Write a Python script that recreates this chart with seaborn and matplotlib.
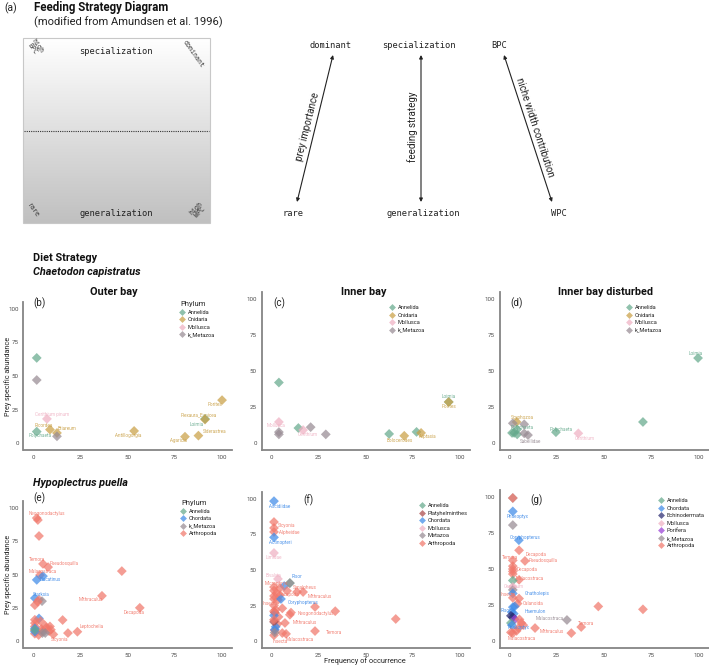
import numpy as np
import pandas as pd
import seaborn as sns
import matplotlib.pyplot as plt
from matplotlib.lines import Line2D
from matplotlib.patches import Rectangle
from matplotlib.colors import LinearSegmentedColormap

sns.set_style("white")
plt.rcParams['font.family'] = ['Roboto', 'DejaVu Sans']

# ---------------- data ----------------
# (b) Chaetodon capistratus, outer bay
b_x = [2, 2, 2, 9, 7.4, 12.7, 12.7, 53.5, 80.4, 87.5, 91, 91, 100]
b_y = [63.5, 47, 8.5, 10, 18, 7.5, 5, 9, 4.7, 5.5, 18, 17.5, 32]
b_phylum = ["Annelida", "k_Metazoa", "Annelida", "Cnidaria", "Mollusca", "Cnidaria", "k_Metazoa",
            "Cnidaria", "Cnidaria", "Cnidaria", "Annelida", "Cnidaria", "Cnidaria"]
b_label = ["", "", "Polychaeta", "Ricordea", "Cerithium pinum", "Briareum", "", "Antillogorgia",
           "Agaricia", "Siderastrea", "Loimia", "Plexaura_Eunicea", "Porites"]

# (c) inner bay
c_x = [4.2, 4.2, 4.2, 4.2, 14.5, 17, 21, 29, 62.5, 70.5, 77, 79.4, 94, 94]
c_y = [42, 14.6, 7.6, 6, 10.4, 9, 11, 6, 6.3, 5, 7.7, 7, 28.5, 28.5]
c_phylum = ["Annelida", "Mollusca", "k_Metazoa", "k_Metazoa", "Annelida", "Mollusca", "k_Metazoa",
            "k_Metazoa", "Annelida", "Cnidaria", "Annelida", "Cnidaria", "Annelida", "Cnidaria"]
c_label = ["", "Mollusca", "", "", "", "Cerithium", "", "", "", "Bolocerodes", "", "Aiptasia",
           "Loimia", "Porites"]

# (d) inner bay disturbed
d_x = [99.5, 70.5, 4, 2, 2.7, 1.6, 4.3, 4.3, 8, 8, 10, 24.7, 36.5]
d_y = [59, 14.6, 14.6, 13.7, 7, 7, 6, 9.5, 13, 6.7, 5.5, 7.5, 6.7]
d_phylum = ["Annelida", "Annelida", "Cnidaria", "k_Metazoa", "Annelida", "Annelida", "Annelida",
            "Annelida", "k_Metazoa", "k_Metazoa", "k_Metazoa", "Annelida", "Mollusca"]
d_label = ["Loimia", "", "Scyphozoa", "", "", "", "", "Polychaeta", "", "", "Sabellidae",
           "Polychaeta", "Cerithium"]

# (e) Hypoplectrus puella, outer bay
e_x = [2, 2.6, 3.2, 5.3, 8, 47, 3.7, 5.3, 2, 1, 36.5, 3.2, 4.8, 1, 2.5, 56.5, 15.7, 3.2, 1, 1,
       1, 1, 1, 4, 4.5, 5, 6.5, 7, 8.5, 9, 9.5, 3, 1, 1, 1, 5, 6.5, 23.5, 18.5, 10.8]
e_y = [92.5, 91, 79, 58, 55.6, 52.6, 49.6, 48.8, 46, 32.3, 34, 31, 30, 27, 29.5, 25, 15.8, 17, 16, 13.5,
       11, 8, 5.5, 15, 9, 7.5, 11.5, 10, 7.5, 11, 8.5, 4.5, 9.5, 7, 8.5, 6, 6, 7, 6, 5]
e_phylum = ["Arthropoda"] * 7 + ["Chordata"] * 3 + ["Arthropoda", "Arthropoda", "k_Metazoa"] + \
           ["Arthropoda"] * 4 + ["Chordata"] + ["Arthropoda"] * 14 + \
           ["Chordata", "Chordata", "Annelida", "k_Metazoa", "k_Metazoa"] + ["Arthropoda"] * 3
e_label = ["Neogonodactylus", "", "", "Temora", "Pseudosquilla", "", "Malacostraca", "", "Elacatinus",
           "Starksia", "Mithraculus", "", "", "", "", "Decapoda"] + [""] * 21 + ["Leptochelia", "", "Sicyonia"]

# (f) inner bay
f_x = [1.6, 1.6, 1.6, 1.6, 1.6, 1.6, 3.7, 7, 10, 10, 1.6, 4.7, 1.6, 3, 8.5, 13.8, 17, 4.8, 1.6, 1.6,
       3.7, 5.3, 23.3, 1.6, 34, 7.4, 23.3, 6, 8, 1.6, 66, 10.6, 2, 2.5, 4, 3.5, 2, 6, 10, 1.6,
       2.5, 1.6, 2, 1.6, 1.6, 2]
f_y = [98.5, 83.8, 79.6, 76.8, 73, 62, 43.7, 38.7, 40.8, 40.8, 38, 37.3, 35.5, 33.5, 35.3, 34.5, 34.5,
       32.4, 31.7, 29.6, 29, 29.6, 24, 25, 21, 12.7, 7, 5.6, 5, 4, 15.5, 20, 20, 22, 17, 12, 7.5, 23,
       18.5, 18, 10, 13.5, 8, 15, 21, 6]
f_phylum = ["Chordata", "Arthropoda", "Arthropoda", "Arthropoda", "Chordata", "Mollusca", "Mollusca",
            "Chordata", "Annelida", "Metazoa"] + ["Arthropoda"] * 11 + ["Chordata"] + \
           ["Arthropoda"] * 10 + ["Platyhelminthes"] + ["Arthropoda"] * 6 + \
           ["Chordata", "Chordata", "Platyhelminthes", "Chordata", "Arthropoda", "Arthropoda", "Metazoa"]
f_label = ["Ascidiidae", "Sicyonia", "", "Alpheidae", "Actinopteri", "Limidae", "Bivalvia", "Risor", "", "",
           "Microphrys", "", "", "", "Synalpheus", "", "Mithraculus", "Decapoda", "", "", "",
           "Coryphopterus", "", "Insecta", "Neogonodactylus", "Mithraculus", "Temora", "Malacostraca",
           "", "Insecta"] + [""] * 16

# (g) inner bay disturbed
g_x = [2, 2, 2, 2, 5.2, 5.3, 2, 8.4, 2, 2, 2, 2, 5.3, 2, 2, 2, 2, 2, 5.3, 4.5, 2, 3, 47, 70.5,
       1.5, 2.5, 1, 2, 3, 1, 1.5, 5.5, 6.5, 7.5, 5, 4, 1, 2, 30.5, 38, 32.8, 13.7]
g_y = [99.3, 99.3, 90, 80.5, 70, 63, 56, 55.6, 52, 50, 48.3, 46.5, 42.5, 42, 37.5, 35.5, 33, 30, 29.5, 26,
       23.5, 24, 24, 22, 20, 19, 17.5, 16.5, 15, 12.5, 11, 15, 12.5, 11, 9, 7, 6, 5.5, 14.6, 9.7, 5.5, 9]
g_phylum = ["k_Metazoa", "Arthropoda", "Chordata", "k_Metazoa", "Chordata"] + ["Arthropoda"] * 8 + \
           ["Annelida", "Mollusca", "k_Metazoa", "Chordata", "Arthropoda", "Arthropoda", "Arthropoda",
            "Chordata", "Chordata", "Arthropoda", "Arthropoda", "Chordata", "Chordata", "Echinodermata",
            "Echinodermata", "Porifera", "Annelida", "Chordata"] + ["Arthropoda"] * 7 + \
           ["k_Metazoa", "Arthropoda", "Arthropoda", "Arthropoda"]
g_label = ["", "", "Phaeoptyx", "", "Coryphopterus", "Decapoda", "Temora", "Pseudosquilla", "", "Decapoda",
           "", "", "Malacostraca", "", "Cerithium", "", "Gnatholepis", "Insecta", "", "Calanoida", "", "",
           "", "", "Risor", "Haemulon", "", "", "", "", "Phaeoptyx", "", "", "", "", "", "Malacostraca",
           "", "Malacostraca", "Temora", "", "Mithraculus"]

# ---------------- label nudges (pixels) and styling ----------------
b_nudge = [(0, 0), (0, 0), (3, -4), (-6, 4), (5, 4), (10, 4), (0, 0), (-6, -5), (-7, -4), (16, 4),
           (-8, -6), (-6, 5), (-7, -4)]
c_nudge = [(0, 0), (-3, -4), (0, 0), (0, 0), (0, 0), (5, -4), (0, 0), (0, 0), (0, 0), (-5, -5), (0, 0),
           (6, -4), (0, 5), (0, -5)]
d_nudge = [(-2, 5), (0, 0), (6, 4), (0, 0), (0, 0), (0, 0), (0, 0), (5, 2), (0, 0), (0, 0), (2, -6),
           (5, 3), (6, -5)]
e_nudge = [(10, 5), (0, 0), (0, 0), (-6, 4), (16, 4), (0, 0), (3, 4), (0, 0), (14, 0), (6, 4), (-11, -4),
           (0, 0), (0, 0), (0, 0), (0, 0), (-6, -5)] + [(0, 0)] * 21 + [(14, 5), (0, 0), (6, -5)]
f_nudge = [(6, -5), (13, -3), (0, 0), (15, -1), (6, -5), (0, -5), (-4, 3), (13, 10), (0, 0), (0, 0),
           (2, 4), (0, 0), (0, 0), (0, 0), (18, 3), (0, 0), (17, -4), (9, 0), (0, 0), (0, 0), (0, 0),
           (22, -4), (0, 0), (-4, 2), (-19, -2), (20, 0), (19, -1), (17, -6), (0, 0), (6, -6)] + [(0, 0)] * 16
g_nudge = [(0, 0), (0, 0), (5, -5), (0, 0), (6, 3), (17, -4), (-3, 3), (18, 0), (0, 0), (14, 0), (0, 0),
           (0, 0), (11, 1), (0, 0), (1, 1), (0, 0), (24, 0), (-5, 3), (0, 0), (16, 0), (0, 0), (0, 0),
           (0, 0), (0, 0), (-6, 2), (22, 2), (0, 0), (0, 0), (0, 0), (0, 0), (7, -2), (0, 0), (0, 0),
           (0, 0), (0, 0), (0, 0), (11, -6), (0, 0), (-17, 1), (5, 4), (0, 0), (17, -3)]

pal = {
    "Annelida": "#65a98c", "Cnidaria": "#c9a046", "Mollusca": "#efb1c3", "k_Metazoa": "#978b93",
    "Metazoa": "#978b93", "Chordata": "#3f8be8", "Arthropoda": "#f1786b", "Platyhelminthes": "#ab4a4a",
    "Echinodermata": "#2a2a70", "Porifera": "#993fd5",
}

W, H = 709, 668
fig = plt.figure(figsize=(W / 100, H / 100), dpi=100)

# overlay in pixel coordinates for the diagram and the titles
ov = fig.add_axes([0, 0, 1, 1])
ov.axis('off')
grad = np.linspace(0, 1, 200).reshape(-1, 1)
cmap = LinearSegmentedColormap.from_list('g', ['#ffffff', '#c0c0c0'])
ov.imshow(grad, extent=(23, 210, 223, 38), cmap=cmap, aspect='auto', origin='upper')
ov.add_patch(Rectangle((23, 38), 187, 185, fill=False, ec='#c8c8c8', lw=0.8))
ov.plot([24, 209], [131, 131], ls=(0, (1, 1)), color='#333333', lw=0.8)
ov.set_xlim(0, W)
ov.set_ylim(H, 0)

mono = 'DejaVu Sans Mono'
ov.text(116, 51, 'specialization', family=mono, fontsize=6.3, ha='center', va='center', color='#222')
ov.text(116, 213, 'generalization', family=mono, fontsize=6.3, ha='center', va='center', color='#222')
ov.text(35, 47, 'high\nBPC', family=mono, fontsize=4.8, ha='center', va='center', rotation=-55,
        linespacing=0.9, color='#333')
ov.text(193, 54, 'dominant', family=mono, fontsize=4.8, ha='center', va='center', rotation=-55, color='#333')
ov.text(33, 210, 'rare', family=mono, fontsize=4.8, ha='center', va='center', rotation=-55, color='#333')
ov.text(198, 210, 'high\nWPC', family=mono, fontsize=4.8, ha='center', va='center', rotation=45,
        linespacing=0.9, color='#333')

for s, x, y in [('dominant', 330, 45), ('rare', 293, 213), ('specialization', 419, 45),
                ('generalization', 423, 213), ('BPC', 499, 45), ('WPC', 559, 213)]:
    ov.text(x, y, s, family=mono, fontsize=6.3, ha='center', va='center', color='#222')

arr = dict(arrowstyle='<|-|>', color='#222', lw=0.8, mutation_scale=5, shrinkA=0, shrinkB=0)
ov.annotate('', xy=(333, 55), xytext=(297, 202), arrowprops=arr)
ov.annotate('', xy=(421, 55), xytext=(421, 202), arrowprops=arr)
ov.annotate('', xy=(504, 55), xytext=(552, 202), arrowprops=arr)
ov.text(308, 127, 'prey importance', fontsize=7, rotation=76, ha='center', va='center', color='#222')
ov.text(413, 127, 'feeding strategy', fontsize=7, rotation=90, ha='center', va='center', color='#222')
ov.text(535, 127, 'niche width contribution', fontsize=7, rotation=-72, ha='center', va='center', color='#222')

ov.text(4, 8, '(a)', fontsize=7.5, va='center', color='#222')
ov.text(34, 8, 'Feeding Strategy Diagram', fontsize=8.3, fontweight='bold', va='center', color='#111')
ov.text(34, 22, '(modified from Amundsen et al. 1996)', fontsize=8, va='center', color='#222')
ov.text(33, 258, 'Diet Strategy', fontsize=7.8, fontweight='bold', va='center', color='#111')
ov.text(33, 272, 'Chaetodon capistratus', fontsize=7.8, fontweight='bold', style='italic', va='center', color='#111')
ov.text(33, 483, 'Hypoplectrus puella', fontsize=7.8, fontweight='bold', style='italic', va='center', color='#111')
for s, x in [('Outer bay', 114), ('Inner bay', 364), ('Inner bay disturbed', 605)]:
    ov.text(x, 292, s, fontsize=7.8, fontweight='bold', ha='center', va='center', color='#111')
for s, x, y in [('(b)', 33, 303), ('(c)', 273, 303), ('(d)', 510, 303),
                ('(e)', 33, 498), ('(f)', 303, 500), ('(g)', 530, 500)]:
    ov.text(x, y, s, fontsize=7, va='center', color='#222')
for y in [376, 574]:
    ov.text(8, y, 'Prey specific abundance', fontsize=5.2, rotation=90, ha='center', va='center', color='#222')
ov.text(365, 661, 'Frequency of occurrence', fontsize=5.3, ha='center', va='center', color='#222')


def make_ax(l, r, t, b):
    ax = fig.add_axes([l / W, 1 - b / H, (r - l) / W, (b - t) / H])
    ax.patch.set_alpha(0)
    return ax


def draw_panel(ax, xs, ys, phyla, labels, nudges, order, leg_xy, title=None):
    df = pd.DataFrame({'x': xs, 'y': ys, 'phylum': phyla})
    sns.scatterplot(data=df, x='x', y='y', hue='phylum', hue_order=order, palette=pal,
                    marker='D', s=25, alpha=0.72, linewidth=0, legend=False, ax=ax)
    for x, y, p, lab, (dx, dy) in zip(xs, ys, phyla, labels, nudges):
        if lab:
            ax.annotate(lab, (x, y), xytext=(dx, dy), textcoords='offset pixels', ha='center',
                        va='center', fontsize=3.3, color=pal[p], alpha=0.9)
    ax.set_xlim(-5, 105)
    ax.set_ylim(-5, 105)
    ax.set_xticks([0, 25, 50, 75, 100])
    ax.set_yticks([0, 25, 50, 75, 100])
    ax.set_xlabel('')
    ax.set_ylabel('')
    sns.despine(ax=ax)
    for sp in ['left', 'bottom']:
        ax.spines[sp].set_color('#858585')
        ax.spines[sp].set_linewidth(1.3)
    ax.tick_params(length=2, width=0.7, color='#858585', labelsize=4.4, labelcolor='#4d4d4d', pad=1.5)
    handles = [Line2D([], [], marker='D', ls='', color=pal[p], alpha=0.72, markersize=3.5, mew=0)
               for p in order]
    leg = ax.legend(handles, order, title=title, loc='upper left',
                    bbox_to_anchor=(leg_xy[0] / W, 1 - leg_xy[1] / H), bbox_transform=fig.transFigure,
                    frameon=False, fontsize=4.1, title_fontsize=5.5, handlelength=0.8, handletextpad=0.5,
                    labelspacing=0.45, borderpad=0, borderaxespad=0)
    leg._legend_box.align = 'left'


top4 = ["Annelida", "Cnidaria", "Mollusca", "k_Metazoa"]
ax_b = make_ax(23.5, 231.5, 302.3, 449.7)
draw_panel(ax_b, b_x, b_y, b_phylum, b_label, b_nudge, top4, (180, 301), 'Phylum')
ax_c = make_ax(261.5, 469.5, 291.8, 450.2)
draw_panel(ax_c, c_x, c_y, c_phylum, c_label, c_nudge, top4, (390, 305))
ax_d = make_ax(499.5, 708.5, 291.8, 450.2)
draw_panel(ax_d, d_x, d_y, d_phylum, d_label, d_nudge, top4, (627, 305))

ax_e = make_ax(23.5, 231.5, 501.4, 647.7)
draw_panel(ax_e, e_x, e_y, e_phylum, e_label, e_nudge,
           ["Annelida", "Chordata", "k_Metazoa", "Arthropoda"], (181, 500), 'Phylum')
ax_f = make_ax(261.5, 469.5, 491.9, 648.1)
draw_panel(ax_f, f_x, f_y, f_phylum, f_label, f_nudge,
           ["Annelida", "Platyhelminthes", "Chordata", "Mollusca", "Metazoa", "Arthropoda"], (420, 503))
ax_g = make_ax(499.5, 708.5, 489.8, 648.2)
draw_panel(ax_g, g_x, g_y, g_phylum, g_label, g_nudge,
           ["Annelida", "Chordata", "Echinodermata", "Mollusca", "Porifera", "k_Metazoa", "Arthropoda"],
           (659, 498))

fig.savefig('out.png', dpi=100)
